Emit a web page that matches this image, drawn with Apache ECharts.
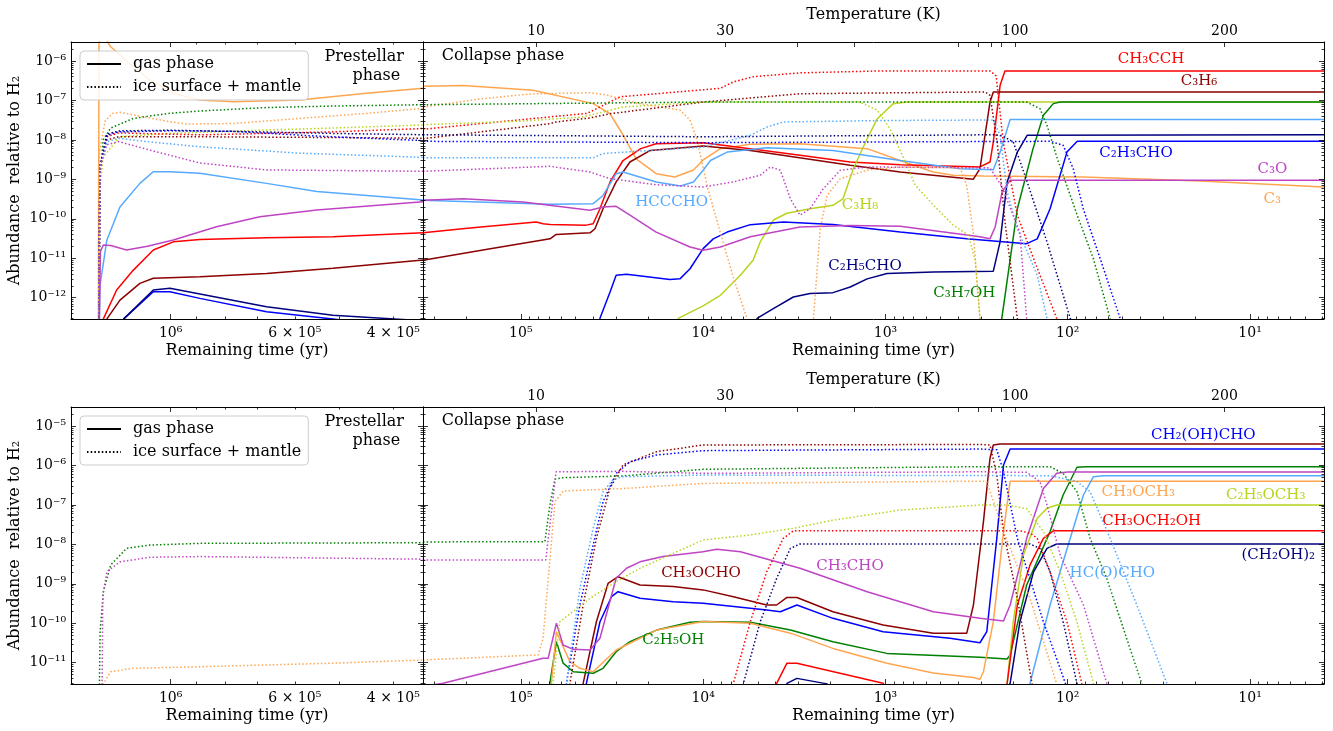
<!DOCTYPE html>
<html><head><meta charset="utf-8">
<script src="https://cdn.jsdelivr.net/npm/echarts@6/dist/echarts.min.js"></script>
<style>html,body{margin:0;padding:0;background:#fff}#c{width:1333px;height:731px}</style>
</head><body><div id="c"></div>
<script>
// ---------------- DATA: [remaining time (yr), abundance relative to H2] ----------------
// Top figure, prestellar phase (left)
const tl_C3_gas = [[1.347e6,1e-14],[1.343e6,3e-6],[1.32e6,4.5e-6],[1.28e6,2.3e-6],[1.166e6,7.2e-7],[1.089e6,3.3e-7],[9.89e5,1.52e-7],[8.87e5,1.03e-7],[7.73e5,9.3e-8],[5.88e5,1.03e-7],[4.47e5,1.52e-7],[3.54e5,2.03e-7]];
const tl_HCCCHO_gas = [[1.346e6,1e-14],[1.338e6,2e-12],[1.30e6,2.9e-11],[1.232e6,2.0e-10],[1.135e6,7.9e-10],[1.074e6,1.56e-9],[1.003e6,1.56e-9],[8.87e5,1.43e-9],[6.74e5,7.9e-10],[5.48e5,4.9e-10],[3.54e5,3.0e-10]];
const tl_C3O_gas = [[1.346e6,1e-14],[1.335e6,1.5e-11],[1.319e6,2.17e-11],[1.28e6,2.1e-11],[1.199e6,1.62e-11],[1.1e6,2.0e-11],[9.89e5,2.9e-11],[8.28e5,6.3e-11],[6.93e5,1.13e-10],[5.48e5,1.67e-10],[3.54e5,2.72e-10]];
const tl_CH3CCH_gas = [[1.325e6,1e-13],[1.319e6,2.9e-13],[1.249e6,1.57e-12],[1.166e6,5e-12],[1.074e6,1.62e-11],[9.89e5,2.6e-11],[8.87e5,3.0e-11],[6.74e5,3.3e-11],[5.13e5,3.5e-11],[3.54e5,4.4e-11]];
const tl_C3H6_gas = [[1.31e6,1e-13],[1.30e6,2.9e-13],[1.232e6,8.7e-13],[1.135e6,2.3e-12],[1.074e6,3.1e-12],[8.87e5,3.4e-12],[6.74e5,4.1e-12],[5.13e5,5.6e-12],[3.54e5,9.0e-12]];
const tl_C2H3CHO_gas = [[1.22e6,1e-13],[1.213e6,2.9e-13],[1.074e6,1.42e-12],[1.003e6,1.42e-12],[8.87e5,9.6e-13],[6.74e5,4.4e-13],[5.13e5,2.9e-13],[3.54e5,1.5e-13]];
const tl_C2H5CHO_gas = [[1.22e6,1e-13],[1.213e6,2.9e-13],[1.074e6,1.57e-12],[1.003e6,1.73e-12],[6.74e5,5.9e-13],[5.13e5,3.6e-13],[3.54e5,2.6e-13]];
const tl_C3_ice = [[1.346e6,1e-14],[1.340e6,5e-9],[1.31e6,3e-8],[1.27e6,4.7e-8],[1.232e6,5.0e-8],[1.166e6,4.3e-8],[1.007e6,2.9e-8],[9.36e5,2.53e-8],[7.73e5,2.6e-8],[5.88e5,3.5e-8],[4.47e5,4.7e-8],[3.54e5,6.3e-8]];
const tl_C3H7OH_ice = [[1.346e6,1e-14],[1.337e6,1e-9],[1.32e6,1e-8],[1.28e6,2.0e-8],[1.166e6,3.5e-8],[1.007e6,4.7e-8],[8.87e5,5.4e-8],[6.74e5,6.6e-8],[5.13e5,7.2e-8],[3.54e5,7.8e-8]];
const tl_C3H8_ice = [[1.346e6,1e-14],[1.337e6,6.5e-10],[1.32e6,3.7e-9],[1.232e6,1.21e-8],[1.007e6,1.46e-8],[6.74e5,1.78e-8],[5.13e5,2.0e-8],[3.54e5,2.39e-8]];
const tl_CH3CCH_ice = [[1.346e6,1e-14],[1.338e6,2e-9],[1.30e6,1.2e-8],[1.24e6,1.5e-8],[8.87e5,1.34e-8],[5.13e5,1.6e-8],[3.54e5,1.94e-8]];
const tl_C3H6_ice = [[1.346e6,1e-14],[1.338e6,2e-9],[1.30e6,1.0e-8],[1.24e6,1.2e-8],[8.87e5,1.2e-8],[5.13e5,1.15e-8],[3.54e5,1.1e-8]];
const tl_C2H3CHO_ice = [[1.346e6,1e-14],[1.338e6,2e-9],[1.30e6,1.3e-8],[1.24e6,1.6e-8],[1.0e6,1.7e-8],[7.73e5,1.65e-8],[5.5e5,1.25e-8],[3.54e5,9.6e-9]];
const tl_C2H5CHO_ice = [[1.346e6,1e-14],[1.338e6,2e-9],[1.30e6,1.4e-8],[1.232e6,1.7e-8],[1.0e6,1.75e-8],[7.0e5,1.6e-8],[5.0e5,1.45e-8],[3.54e5,1.35e-8]];
const tl_HCCCHO_ice = [[1.346e6,1e-14],[1.338e6,2e-9],[1.30e6,9e-9],[1.24e6,1.1e-8],[1.1e6,9e-9],[8.87e5,6.7e-9],[5.88e5,4.6e-9],[3.54e5,3.6e-9]];
const tl_C3O_ice = [[1.346e6,1e-14],[1.338e6,2e-9],[1.30e6,7.5e-9],[1.24e6,9.1e-9],[1.089e6,5.5e-9],[8.87e5,2.6e-9],[6.74e5,1.73e-9],[3.54e5,1.6e-9]];

// Top figure, collapse phase (right)
const tr_C3_gas = [[3.44e5,2.29e-7],[2.07e5,2.38e-7],[8.56e4,1.81e-7],[4.01e4,8.3e-8],[3.24e4,4.6e-8],[2.75e4,1.33e-8],[2.33e4,3.3e-9],[1.81e4,1.39e-9],[1.43e4,1.15e-9],[1.13e4,1.73e-9],[1.0e4,3.1e-9],[8.04e3,6.0e-9],[5.51e3,7.7e-9],[2.94e3,8.0e-9],[1.26e3,6.0e-9],[830,3.0e-9],[547,1.54e-9],[424,1.27e-9],[290,1.22e-9],[82,1.15e-9],[18.8,9.1e-10],[3.93,6.4e-10]];
const tr_CH3CCH_gas = [[3.44e5,4.4e-11],[1.9e5,5.8e-11],[8.24e4,8.3e-11],[7.55e4,7.5e-11],[6.91e4,7.2e-11],[4.38e4,6.9e-11],[4.01e4,7.5e-11],[3.68e4,1.8e-10],[3.24e4,8.6e-10],[2.75e4,3.0e-9],[2.2e4,6.0e-9],[1.81e4,8.0e-9],[1.0e4,8.5e-9],[5.51e3,6.0e-9],[2.94e3,4.1e-9],[1.56e3,2.75e-9],[830,2.35e-9],[303,2.06e-9],[267,2.75e-9],[256,8.9e-9],[235,2.42e-7],[221,5.6e-7],[3.93,5.6e-7]];
const tr_C3H6_gas = [[3.44e5,8.9e-12],[1.47e5,1.75e-11],[6.91e4,3.1e-11],[6.4e4,4.0e-11],[4.17e4,4.4e-11],[3.92e4,5.6e-11],[3.54e4,1.8e-10],[3.0e4,8.6e-10],[2.52e4,2.75e-9],[1.95e4,5.4e-9],[1.0e4,7.0e-9],[5.51e3,5.4e-9],[1.56e3,2.27e-9],[830,1.53e-9],[330,1.0e-9],[303,1.86e-9],[267,9.1e-8],[256,1.64e-7],[3.93,1.64e-7]];
const tr_C3H8_gas = [[1.6e4,1e-14],[1.37e4,3.0e-13],[1.0e4,6.2e-13],[8.04e3,1.15e-12],[6.25e3,3.7e-12],[5.31e3,9.0e-12],[4.86e3,2.6e-11],[4.12e3,9.3e-11],[3.47e3,1.38e-10],[2.59e3,1.8e-10],[1.94e3,2.2e-10],[1.71e3,3.2e-10],[1.50e3,1.86e-9],[1.26e3,1.07e-8],[1.11e3,3.4e-8],[906,8.3e-8],[764,9.1e-8],[3.93,9.1e-8]];
const tr_C3H7OH_gas = [[300,1e-15],[230,3e-13],[189,1.8e-10],[155,6.0e-9],[136,4.2e-8],[120,8.3e-8],[110,9.1e-8],[3.93,9.1e-8]];
const tr_HCCCHO_gas = [[3.44e5,2.94e-10],[6.91e4,2.33e-10],[4.01e4,2.42e-10],[3.54e4,3.9e-10],[3.0e4,1.39e-9],[2.75e4,1.53e-9],[1.81e4,8.6e-10],[1.33e4,6.8e-10],[1.13e4,8.6e-10],[1.0e4,1.7e-9],[9.12e3,3.0e-9],[7.38e3,4.9e-9],[4.46e3,6.3e-9],[1.94e3,5.4e-9],[830,3.0e-9],[389,1.86e-9],[256,1.76e-9],[235,4.9e-9],[207,3.3e-8],[3.93,3.3e-8]];
const tr_C2H5CHO_gas = [[6e3,1e-14],[5.06e3,3e-13],[4.12e3,5.3e-13],[3.2e3,1.04e-12],[2.59e3,1.27e-12],[1.94e3,1.34e-12],[1.56e3,1.87e-12],[1.26e3,3.0e-12],[980,4.1e-12],[546,4.5e-12],[256,4.7e-12],[235,2.6e-11],[215,8.6e-10],[189,4.9e-9],[167,1.31e-8],[3.93,1.34e-8]];
const tr_C2H3CHO_gas = [[4.2e4,1e-14],[3.68e4,3e-13],[3.24e4,1.39e-12],[3.0e4,3.7e-12],[2.63e4,3.9e-12],[1.52e4,2.9e-12],[1.34e4,3.0e-12],[1.18e4,5.4e-12],[1.0e4,1.75e-11],[8.8e3,3.1e-11],[7.38e3,4.6e-11],[5.51e3,7.1e-11],[3.63e3,8.3e-11],[1.94e3,7.2e-11],[830,4.6e-11],[358,3.1e-11],[168,2.34e-11],[147,3.1e-11],[125,1.8e-10],[101,4.9e-9],[88.7,9.2e-9],[3.93,9.2e-9]];
const tr_C3O_gas = [[3.44e5,2.94e-10],[2.07e5,3.2e-10],[9.72e4,2.67e-10],[4.17e4,1.64e-10],[3.54e4,2.0e-10],[3.0e4,2.07e-10],[2.52e4,1.23e-10],[1.81e4,4.6e-11],[1.18e4,1.93e-11],[1.0e4,1.59e-11],[8.04e3,1.93e-11],[5.51e3,3.5e-11],[2.94e3,6.2e-11],[1.56e3,6.8e-11],[830,6.5e-11],[303,3.5e-11],[267,3.1e-11],[250,6.2e-11],[229,4.8e-10],[207,9.5e-10],[3.93,9.5e-10]];
const tr_C3_ice = [[3.44e5,6.8e-8],[1.67e5,1.09e-7],[8.89e4,1.46e-7],[4.17e4,1.57e-7],[3.37e4,1.37e-7],[2.3e4,8.5e-8],[1.34e4,5.7e-8],[1.18e4,3.19e-8],[1.08e4,1.0e-8],[9.47e3,6.4e-10],[8.04e3,4.4e-11],[6.84e3,3.35e-12],[5.77e3,3.1e-13],[4.5e3,1e-15],[2.7e3,1e-15],[2.48e3,3e-13],[2.28e3,5.6e-11],[2.09e3,3.9e-10],[1.77e3,1.04e-9],[1.26e3,1.7e-9],[830,2.06e-9],[389,1.95e-9],[357,6.5e-10],[330,4.4e-11],[303,3e-13],[250,1e-15]];
const tr_CH3CCH_ice = [[3.44e5,1.86e-8],[6.65e4,3.9e-8],[4.33e4,4.7e-8],[2.85e4,1.24e-7],[8.04e3,2.03e-7],[6.84e3,2.94e-7],[5.31e3,4.0e-7],[2.94e3,5.0e-7],[1.07e3,5.6e-7],[267,5.6e-7],[247,4.2e-7],[226,8.9e-9],[189,1.23e-10],[154,9.8e-12],[115,3e-13],[90,1e-15]];
const tr_C3H6_ice = [[3.44e5,1.07e-8],[6.91e4,2.58e-8],[6.4e4,2.85e-8],[4.17e4,3.6e-8],[3.24e4,4.6e-8],[1.0e4,9.1e-8],[2.94e3,1.48e-7],[284,1.64e-7],[267,1.35e-7],[244,8.9e-9],[220,7.0e-11],[189,3e-13],[150,1e-15]];
const tr_C3H8_ice = [[3.44e5,2.43e-8],[9.72e4,3.0e-8],[4.6e4,3.8e-8],[3.54e4,5.1e-8],[2.75e4,6.8e-8],[1.0e4,9.1e-8],[1.38e3,9.1e-8],[1.11e3,5.7e-8],[942,1.89e-8],[800,3.7e-9],[687,7.2e-10],[534,2.0e-10],[426,7.0e-11],[352,3.9e-11],[322,9e-12],[303,3e-13],[250,1e-15]];
const tr_C3H7OH_ice = [[3.44e5,7.8e-8],[1.0e4,9.1e-8],[168,9.1e-8],[142,6.2e-8],[130,2.35e-8],[114,3.3e-9],[88.7,1.23e-10],[72.4,9.8e-12],[58.6,3e-13],[45,1e-15]];
const tr_HCCCHO_ice = [[3.44e5,3.5e-9],[4.01e4,3.5e-9],[3.54e4,4.5e-9],[1.0e4,6.6e-9],[5.51e3,1.31e-8],[4.46e3,2.12e-8],[3.63e3,2.85e-8],[1.0e3,3.1e-8],[256,3.2e-8],[235,1.31e-8],[215,4.8e-10],[189,5.6e-11],[147,3.7e-12],[130,3e-13],[100,1e-15]];
const tr_C2H5CHO_ice = [[3.44e5,1.35e-8],[1.0e4,1.2e-8],[256,1.35e-8],[230,1.28e-8],[199,8.9e-9],[167,8.6e-10],[130,2.6e-11],[96.9,3e-13],[70,1e-15]];
const tr_C2H3CHO_ice = [[3.44e5,9.2e-9],[1.0e4,8.5e-9],[125,9.2e-9],[106,7.3e-9],[93.3,1.86e-9],[82.2,1.8e-10],[66.4,9.8e-12],[51.6,3e-13],[40,1e-15]];
const tr_C3O_ice = [[3.44e5,1.6e-9],[6.91e4,2.14e-9],[4.17e4,1.53e-9],[3.24e4,1.04e-9],[1.81e4,7.3e-10],[1.0e4,6.4e-10],[6.84e3,8.6e-10],[4.86e3,1.27e-9],[4.28e3,2.06e-9],[3.77e3,1.7e-9],[3.32e3,3.2e-10],[2.94e3,1.23e-10],[2.59e3,1.8e-10],[2.19e3,5.8e-10],[1.77e3,1.7e-9],[1.26e3,2.06e-9],[267,1.95e-9],[229,6.4e-10],[183,4.4e-11],[168,3e-13],[140,1e-15]];

// Bottom figure, prestellar phase (left)
const bl_C2H5OH_ice = [[1.347e6,1e-14],[1.337e6,6.1e-11],[1.319e6,6.3e-10],[1.28e6,3.0e-9],[1.199e6,7.9e-9],[1.089e6,9.6e-9],[8.87e5,1.06e-8],[3.54e5,1.1e-8]];
const bl_CH3CHO_ice = [[1.33e6,1e-14],[1.322e6,5e-10],[1.30e6,2.03e-9],[1.232e6,3.6e-9],[1.089e6,4.7e-9],[8.87e5,4.9e-9],[3.54e5,4.2e-9]];
const bl_CH3OCH3_ice = [[1.345e6,1e-14],[1.319e6,2.9e-12],[1.28e6,5.9e-12],[1.166e6,7.2e-12],[8.87e5,7.9e-12],[5.13e5,9.7e-12],[3.54e5,1.17e-11]];

// Bottom figure, collapse phase (right)
const br_CH3OCHO_gas = [[5e4,1e-14],[4.55e4,3e-12],[3.85e4,1.09e-10],[3.32e4,1.03e-9],[2.93e4,1.51e-9],[2.22e4,9.3e-10],[1.46e4,8.5e-10],[1.0e4,7.0e-10],[6.82e3,4.7e-10],[4.48e3,2.9e-10],[3.95e3,2.9e-10],[3.47e3,4.5e-10],[3.06e3,4.5e-10],[1.94e3,1.96e-10],[1.03e3,9.0e-11],[546,5.6e-11],[358,5.6e-11],[329,2.9e-10],[290,3.75e-8],[267,1.52e-6],[256,3.3e-6],[235,3.5e-6],[3.93,3.5e-6]];
const br_CH2OHCHO_gas = [[4.8e4,1e-14],[4.37e4,3e-12],[3.68e4,1.09e-10],[3.18e4,4.7e-10],[2.93e4,6.3e-10],[2.22e4,4.3e-10],[1.46e4,3.5e-10],[1.0e4,3.2e-10],[4.48e3,2.17e-10],[3.77e3,1.96e-10],[3.06e3,2.9e-10],[1.94e3,1.33e-10],[1.03e3,6.1e-11],[442,4.15e-11],[303,3.2e-11],[278,6.1e-11],[245,1.42e-8],[225,1.03e-6],[207,2.6e-6],[3.93,2.6e-6]];
const br_C2H5OH_gas = [[7.3e4,1e-14],[6.93e4,3e-12],[6.38e4,3.4e-11],[5.86e4,9.7e-12],[5.16e4,5.9e-12],[4.01e4,5.4e-12],[3.54e4,7.2e-12],[3.0e4,1.9e-11],[2.52e4,3.4e-11],[1.8e4,6.7e-11],[1.18e4,1.06e-10],[1.0e4,1.1e-10],[5.51e3,1.06e-10],[3.32e3,6.7e-11],[1.94e3,3.4e-11],[982,1.72e-11],[303,1.37e-11],[215,1.24e-11],[207,1.57e-11],[168,9.3e-10],[125,2.1e-8],[106,1.78e-7],[89,9.0e-7],[80,9.3e-7],[3.93,9.3e-7]];
const br_CH3OCH3_gas = [[7.2e4,1e-14],[6.8e4,3e-12],[6.38e4,6.1e-11],[5.38e4,1.06e-11],[4.74e4,7.2e-12],[4.01e4,5.9e-12],[3.0e4,2.1e-11],[1.8e4,6.7e-11],[1.0e4,1.1e-10],[5.51e3,1.0e-10],[3.32e3,5.6e-11],[1.94e3,2.3e-11],[982,9.7e-12],[546,5.5e-12],[330,4.2e-12],[303,3.8e-12],[290,5.9e-12],[256,1.1e-10],[225,2.1e-8],[207,4.0e-7],[3.93,4.0e-7]];
const br_CH3CHO_gas = [[3.44e5,2.5e-12],[2.67e5,3e-12],[7.55e4,1.29e-11],[7.08e4,1.29e-11],[6.38e4,1.0e-10],[5.86e4,2.8e-11],[5.16e4,2.18e-11],[4.17e4,2.1e-11],[3.68e4,4.15e-11],[3.0e4,1.38e-9],[2.63e4,2.47e-9],[2.22e4,3.6e-9],[1.66e4,4.9e-9],[1.0e4,6.5e-9],[8.41e3,7.5e-9],[6.25e3,6.5e-9],[2.94e3,2.47e-9],[1.26e3,6.3e-10],[546,1.96e-10],[303,1.33e-10],[225,1.14e-10],[207,2.9e-10],[168,1.42e-8],[136,2.6e-7],[115,6.3e-7],[100,6.8e-7],[3.93,6.8e-7]];
const br_HCOCHO_gas = [[175,1e-14],[161,3e-12],[125,2.9e-10],[96.9,1.42e-8],[82,1.78e-7],[72.3,5.2e-7],[63.7,5.5e-7],[3.93,5.5e-7]];
const br_C2H5OCH3_gas = [[230,1e-14],[215,3e-12],[199,1.09e-10],[175,5.4e-9],[147,4.6e-8],[130,8.2e-8],[115,9.9e-8],[3.93,9.9e-8]];
const br_CH3OCH2OH_gas = [[4.3e3,1e-14],[3.95e3,3e-12],[3.47e3,9.7e-12],[3.06e3,9.7e-12],[1.03e3,3e-12],[700,1e-13],[250,1e-13],[215,3e-12],[189,2.9e-10],[161,3.0e-9],[136,1.42e-8],[120,2.2e-8],[3.93,2.2e-8]];
const br_CH2OH2_gas = [[3.8e3,1e-14],[3.47e3,3e-12],[3.06e3,4.0e-12],[2.09e3,2.9e-12],[1.5e3,1e-13],[250,1e-13],[207,3e-12],[183,1.09e-10],[154,2.0e-9],[130,7.9e-9],[115,1.02e-8],[3.93,1.02e-8]];
const br_CH3OCHO_ice = [[5.8e4,1e-14],[5.38e4,3e-12],[4.55e4,2.9e-10],[3.85e4,1.42e-8],[3.25e4,2.6e-7],[2.75e4,1.03e-6],[1.8e4,2.23e-6],[1.0e4,3.3e-6],[303,3.4e-6],[267,3.3e-6],[245,5.7e-7],[225,2.1e-8],[189,4.3e-10],[157,2.9e-12],[130,1e-14]];
const br_CH2OHCHO_ice = [[6.0e4,1e-14],[5.62e4,3e-12],[4.74e4,2.9e-10],[4.01e4,9.6e-9],[3.54e4,1.2e-7],[3.0e4,6.3e-7],[2.52e4,1.24e-6],[1.8e4,1.84e-6],[1.0e4,2.37e-6],[303,2.6e-6],[245,2.5e-6],[225,6.9e-7],[189,1.42e-8],[136,1.09e-10],[103,3e-12],[85,1e-14]];
const br_C2H5OH_ice = [[3.44e5,1.15e-8],[7.38e4,1.17e-8],[6.93e4,9.9e-8],[6.5e4,4.5e-7],[5.86e4,4.9e-7],[2.75e4,5.4e-7],[1.0e4,8.0e-7],[303,9.3e-7],[125,9.3e-7],[106,6.3e-7],[89,2.16e-7],[75.4,1.42e-8],[61.1,1.38e-9],[47.5,4.1e-11],[39.3,3e-12],[30,1e-14]];
const br_CH3CHO_ice = [[3.44e5,4.0e-9],[7.3e4,4.0e-9],[6.4e4,6.9e-7],[2.75e4,7.1e-7],[1.0e4,6.3e-7],[303,6.9e-7],[168,6.7e-7],[142,3.9e-7],[130,9.9e-8],[110,5.4e-9],[82,2.9e-10],[61.1,3e-12],[45,1e-14]];
const br_CH3OCH3_ice = [[3.44e5,1.17e-11],[8.04e4,1.57e-11],[7.55e4,4.15e-11],[6.5e4,1.2e-7],[5.86e4,2.25e-7],[2.75e4,2.6e-7],[1.0e4,3.5e-7],[303,4.0e-7],[278,3.87e-7],[225,2.1e-8],[161,4.3e-10],[115,2.9e-12],[90,1e-14]];
const br_HCOCHO_ice = [[6.0e4,1e-14],[5.62e4,3e-12],[4.74e4,7.6e-10],[4.01e4,2.55e-8],[3.54e4,2.16e-7],[3.12e4,4.3e-7],[2.75e4,5.2e-7],[1.0e4,5.7e-7],[125,5.5e-7],[89,3.9e-7],[75.4,2.16e-7],[58.5,1.42e-8],[41.8,2.9e-10],[28.6,3e-12],[22,1e-14]];
const br_CH3OCH2OH_ice = [[8e3,1e-14],[6.82e3,3e-12],[5.51e3,1.09e-10],[4.48e3,2.0e-9],[3.63e3,1.42e-8],[3.2e3,2.2e-8],[183,2.22e-8],[160,1.9e-8],[147,1.42e-8],[125,2.0e-9],[101,1.09e-10],[83.8,3e-12],[70,1e-14]];
const br_CH2OH2_ice = [[7e3,1e-14],[6.01e3,3e-12],[4.86e3,1.09e-10],[3.95e3,1.38e-9],[3.32e3,7.9e-9],[2.94e3,1.02e-8],[161,1.02e-8],[142,7.9e-9],[125,2.0e-9],[106,1.09e-10],[89,3e-12],[75,1e-14]];
const br_C2H5OCH3_ice = [[7e4,1e-14],[6.65e4,3e-12],[6.11e4,1.09e-10],[4.17e4,4.3e-10],[3.0e4,1.13e-9],[2.22e4,2.47e-9],[1.0e4,1.29e-8],[5.51e3,1.73e-8],[3.2e3,2.55e-8],[1.94e3,4.1e-8],[830,7.4e-8],[303,9.9e-8],[215,9.9e-8],[168,8e-8],[136,2.1e-8],[110,2.0e-9],[89,1.09e-10],[72.3,3e-12],[60,1e-14]];

// Axis ticks
const leftTimeMajor = [1e6];
const leftTimeMinor = [9e5, 8e5, 7e5, 6e5, 5e5, 4e5];
const leftTimeLabels = [1e6, 6e5, 4e5];
const tempTickTimes = [82440, 30670, 7573, 3051, 1485, 400.6, 311.3, 263.2, 232.0, 194.3, 13.82];
const tempTickText  = ['10', '', '30', '', '', '', '', '', '', '100', '200'];

// ---------------- STYLE / LAYOUT ----------------
const FONT = 'DejaVu Serif';
const C = {red:'#ff0000', darkred:'#8b0000', yg:'#b8d41c', green:'#008000', lb:'#55aaff', navy:'#00007f', blue:'#0000ff', orchid:'#bf44c4', orange:'#ffa54f'};
const PANELS = [
  {grid:{left:71, top:42, width:352, height:277}, x:[3.54e5,1.507e6], y:[2.88e-13,3.03e-6], left:true},
  {grid:{left:423, top:42, width:901, height:277}, x:[3.93,3.44e5], y:[2.88e-13,3.03e-6], left:false},
  {grid:{left:71, top:407, width:352, height:277}, x:[3.54e5,1.507e6], y:[2.88e-12,3.03e-5], left:true},
  {grid:{left:423, top:407, width:901, height:277}, x:[3.93,3.44e5], y:[2.88e-12,3.03e-5], left:false}
];
const SERIES = [
  [tl_C3_gas,0,'orange',0],[tl_HCCCHO_gas,0,'lb',0],[tl_C3O_gas,0,'orchid',0],[tl_CH3CCH_gas,0,'red',0],[tl_C3H6_gas,0,'darkred',0],[tl_C2H3CHO_gas,0,'blue',0],[tl_C2H5CHO_gas,0,'navy',0],
  [tl_C3_ice,0,'orange',1],[tl_C3H7OH_ice,0,'green',1],[tl_C3H8_ice,0,'yg',1],[tl_CH3CCH_ice,0,'red',1],[tl_C3H6_ice,0,'darkred',1],[tl_C2H3CHO_ice,0,'blue',1],[tl_C2H5CHO_ice,0,'navy',1],[tl_HCCCHO_ice,0,'lb',1],[tl_C3O_ice,0,'orchid',1],
  [tr_C3_gas,1,'orange',0],[tr_CH3CCH_gas,1,'red',0],[tr_C3H6_gas,1,'darkred',0],[tr_C3H8_gas,1,'yg',0],[tr_C3H7OH_gas,1,'green',0],[tr_HCCCHO_gas,1,'lb',0],[tr_C2H5CHO_gas,1,'navy',0],[tr_C2H3CHO_gas,1,'blue',0],[tr_C3O_gas,1,'orchid',0],
  [tr_C3_ice,1,'orange',1],[tr_CH3CCH_ice,1,'red',1],[tr_C3H6_ice,1,'darkred',1],[tr_C3H8_ice,1,'yg',1],[tr_C3H7OH_ice,1,'green',1],[tr_HCCCHO_ice,1,'lb',1],[tr_C2H5CHO_ice,1,'navy',1],[tr_C2H3CHO_ice,1,'blue',1],[tr_C3O_ice,1,'orchid',1],
  [bl_C2H5OH_ice,2,'green',1],[bl_CH3CHO_ice,2,'orchid',1],[bl_CH3OCH3_ice,2,'orange',1],
  [br_CH3OCHO_gas,3,'darkred',0],[br_CH2OHCHO_gas,3,'blue',0],[br_C2H5OH_gas,3,'green',0],[br_CH3OCH3_gas,3,'orange',0],[br_CH3CHO_gas,3,'orchid',0],[br_HCOCHO_gas,3,'lb',0],[br_C2H5OCH3_gas,3,'yg',0],[br_CH3OCH2OH_gas,3,'red',0],[br_CH2OH2_gas,3,'navy',0],
  [br_CH3OCHO_ice,3,'darkred',1],[br_CH2OHCHO_ice,3,'blue',1],[br_C2H5OH_ice,3,'green',1],[br_CH3CHO_ice,3,'orchid',1],[br_CH3OCH3_ice,3,'orange',1],[br_HCOCHO_ice,3,'lb',1],[br_CH3OCH2OH_ice,3,'red',1],[br_CH2OH2_ice,3,'navy',1],[br_C2H5OCH3_ice,3,'yg',1]
];

// ---------------- helpers ----------------
const SUP = {'-':'⁻','0':'⁰','1':'¹','2':'²','3':'³','4':'⁴','5':'⁵','6':'⁶','7':'⁷','8':'⁸','9':'⁹'};
function sup(n){ return String(n).split('').map(c => SUP[c]).join(''); }
function fmtPow(v){ const e = Math.floor(Math.log10(v) + 1e-9); const m = Math.round(v / Math.pow(10, e)); return m === 1 ? '10' + sup(e) : m + ' × 10' + sup(e); }
function logTicks(min, max){
  const maj = [], mnr = [];
  for (let e = Math.floor(Math.log10(min)); e <= Math.ceil(Math.log10(max)); e++){
    for (let k = 1; k <= 9; k++){
      const v = k * Math.pow(10, e);
      if (v >= min * 1.0001 && v <= max * 0.9999) (k === 1 ? maj : mnr).push(v);
    }
  }
  return {maj, mnr};
}
const xAxes = [], yAxes = [];
function ax(list, o){ list.push(o); return list.length - 1; }
function baseAxis(gi, pos, range, inverse, ticks, len, showLine){
  return {type:'log', logBase:10, gridIndex:gi, position:pos, min:range[0], max:range[1], inverse:inverse,
    axisLine:{show:showLine, onZero:false, lineStyle:{color:'#000', width:1}},
    axisTick:{show:true, inside:true, length:len, customValues:ticks, lineStyle:{color:'#000', width:0.8}},
    axisLabel:{show:false}, splitLine:{show:false}, minorTick:{show:false}, minorSplitLine:{show:false}, z:10};
}
const lab = {fontFamily:FONT, fontSize:14, color:'#000'};
const nameStyle = {fontFamily:FONT, fontSize:16, color:'#000'};
const mainX = [], mainY = [];
PANELS.forEach((p, gi) => {
  let xMaj, xMin, xLab;
  if (p.left){ xMaj = leftTimeMajor; xMin = leftTimeMinor; xLab = leftTimeLabels; }
  else { const t = logTicks(p.x[0], p.x[1]); xMaj = t.maj; xMin = t.mnr; xLab = t.maj; }
  const bx = baseAxis(gi, 'bottom', p.x, true, xMaj, 5, true);
  bx.axisLabel = Object.assign({show:true, customValues:xLab, margin:7, formatter:v => fmtPow(v)}, lab);
  bx.name = 'Remaining time (yr)'; bx.nameLocation = 'middle'; bx.nameGap = 24; bx.nameTextStyle = nameStyle;
  mainX[gi] = ax(xAxes, bx);
  ax(xAxes, baseAxis(gi, 'bottom', p.x, true, xMin, 2.5, false));
  if (p.left){
    ax(xAxes, baseAxis(gi, 'top', p.x, true, xMaj, 5, true));
    ax(xAxes, baseAxis(gi, 'top', p.x, true, xMin, 2.5, false));
  } else {
    const tx = baseAxis(gi, 'top', p.x, true, tempTickTimes, 5, true);
    const labVals = tempTickTimes.filter((t, i) => tempTickText[i] !== '');
    tx.axisLabel = Object.assign({show:true, customValues:labVals, margin:4,
      formatter:v => { let best = 0; tempTickTimes.forEach((t, i) => { if (Math.abs(Math.log(t / v)) < Math.abs(Math.log(tempTickTimes[best] / v))) best = i; }); return tempTickText[best]; }}, lab);
    tx.name = 'Temperature (K)'; tx.nameLocation = 'middle'; tx.nameGap = 18; tx.nameTextStyle = nameStyle;
    ax(xAxes, tx);
  }
  const yt = logTicks(p.y[0], p.y[1]);
  const ly = baseAxis(gi, 'left', p.y, false, yt.maj, 5, true);
  if (p.left){
    ly.axisLabel = Object.assign({show:true, customValues:yt.maj, margin:5, formatter:v => fmtPow(v)}, lab);
    ly.name = 'Abundance  relative to H₂'; ly.nameLocation = 'middle'; ly.nameGap = 48; ly.nameTextStyle = nameStyle;
  }
  mainY[gi] = ax(yAxes, ly);
  ax(yAxes, baseAxis(gi, 'left', p.y, false, yt.mnr, 2.5, false));
  ax(yAxes, baseAxis(gi, 'right', p.y, false, yt.maj, 5, true));
  ax(yAxes, baseAxis(gi, 'right', p.y, false, yt.mnr, 2.5, false));
});

const series = SERIES.map(([data, gi, col, ice]) => ({
  type:'line', data:data, xAxisIndex:mainX[gi], yAxisIndex:mainY[gi],
  symbol:'none', showSymbol:false, clip:true, silent:true, animation:false,
  lineStyle:{color:C[col], width:1.5, type: ice ? [1.5, 2.2] : 'solid'}, itemStyle:{color:C[col]}, z:2
}));
series.push({type:'line', name:'gas phase', data:[], xAxisIndex:mainX[0], yAxisIndex:mainY[0], symbol:'none', lineStyle:{color:'#000', width:1.5, type:'solid'}, itemStyle:{color:'#000'}});
series.push({type:'line', name:'ice surface + mantle', data:[], xAxisIndex:mainX[0], yAxisIndex:mainY[0], symbol:'none', lineStyle:{color:'#000', width:1.5, type:[1.5, 2.2]}, itemStyle:{color:'#000'}});

function legendAt(top){
  return {left:80, top:top, orient:'vertical', itemWidth:34, itemHeight:14, itemGap:7, selectedMode:false,
    padding:[5, 7, 5, 6], backgroundColor:'rgba(255,255,255,0.85)', borderColor:'#cccccc', borderWidth:1, borderRadius:4,
    itemStyle:{color:'rgba(0,0,0,0)', borderColor:'rgba(0,0,0,0)', borderWidth:0, opacity:0},
    textStyle:{fontFamily:FONT, fontSize:16, color:'#000', padding:[0, 0, 0, 7]},
    data:['gas phase', 'ice surface + mantle']};
}

function txt(x, y, s, color, align, size){
  return {type:'text', x:x, y:y, z:100, silent:true,
    style:{text:s, fill:color, font:(size || 15) + 'px "DejaVu Serif"', textAlign:align || 'center', textVerticalAlign:'middle'}};
}
const labels = [
  txt(441.7, 56, 'Collapse phase', '#000', 'left', 16), txt(364.3, 57, 'Prestellar', '#000', 'center', 16), txt(376.3, 76, 'phase', '#000', 'center', 16),
  txt(441.7, 421, 'Collapse phase', '#000', 'left', 16), txt(364.3, 422, 'Prestellar', '#000', 'center', 16), txt(376.3, 441, 'phase', '#000', 'center', 16),
  txt(1151, 59.3, 'CH₃CCH', C.red), txt(1199, 80.7, 'C₃H₆', C.darkred), txt(1136, 153.3, 'C₂H₃CHO', C.blue),
  txt(1272.3, 169.3, 'C₃O', C.orchid), txt(1272.3, 199.3, 'C₃', C.orange), txt(964.3, 292.7, 'C₃H₇OH', C.green),
  txt(865, 266, 'C₂H₅CHO', C.navy), txt(860, 204.7, 'C₃H₈', C.yg), txt(671.7, 201.7, 'HCCCHO', C.lb),
  txt(1203.3, 435, 'CH₂(OH)CHO', C.blue), txt(1138.3, 492.3, 'CH₃OCH₃', C.orange), txt(1265.7, 495, 'C₂H₅OCH₃', C.yg),
  txt(1151.7, 521, 'CH₃OCH₂OH', C.red), txt(1278.3, 555, '(CH₂OH)₂', C.navy), txt(1112.3, 573.3, 'HC(O)CHO', C.lb),
  txt(850, 565.7, 'CH₃CHO', C.orchid), txt(701, 573.3, 'CH₃OCHO', C.darkred), txt(673.3, 640, 'C₂H₅OH', C.green)
];

const chart = echarts.init(document.getElementById('c'), null, {renderer:'canvas'});
chart.setOption({
  animation:false, backgroundColor:'#fff', textStyle:{fontFamily:FONT},
  grid: PANELS.map(p => Object.assign({containLabel:false}, p.grid)),
  xAxis: xAxes, yAxis: yAxes, series: series,
  legend: [legendAt(51), legendAt(416)],
  graphic: {elements: labels}
});
</script></body></html>
